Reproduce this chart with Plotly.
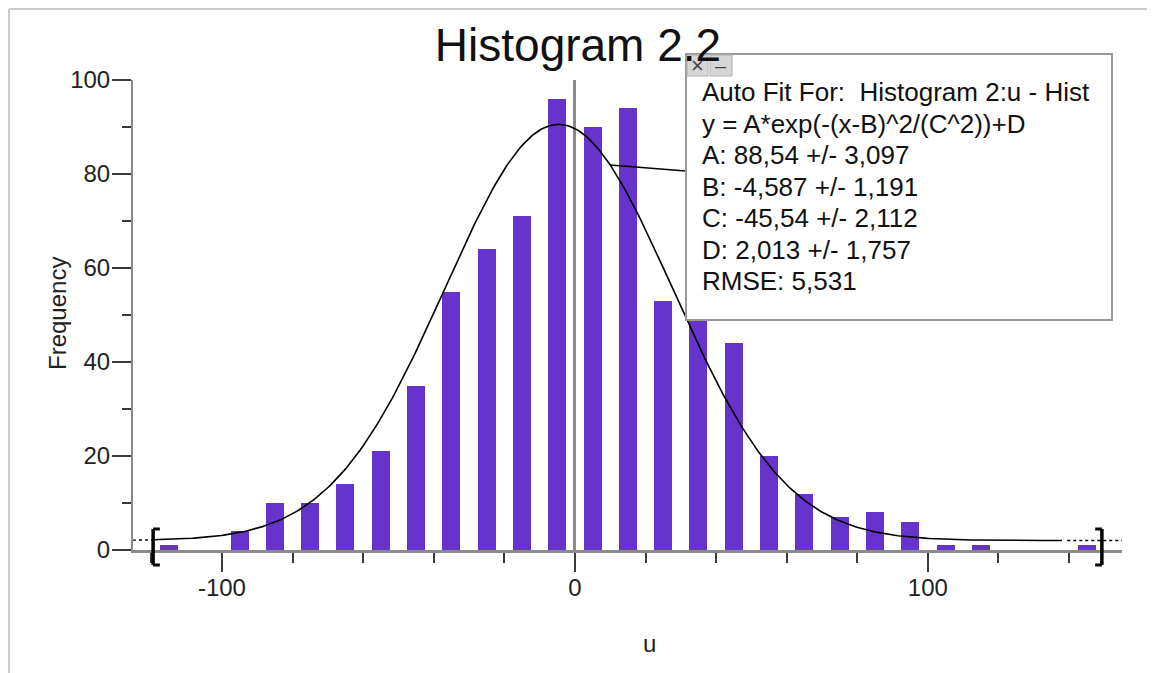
import numpy as np
import plotly.graph_objects as go

# ---------------- data ----------------
bin_centers = [-115, -105, -95, -85, -75, -65, -55, -45, -35, -25, -15, -5, 5,
               15, 25, 35, 45, 55, 65, 75, 85, 95, 105, 115, 125, 135, 145]
counts = [1, 0, 4, 10, 10, 14, 21, 35, 55, 64, 71, 96, 90,
          94, 53, 49, 44, 20, 12, 7, 8, 6, 1, 1, 0, 0, 1]

fit_A, fit_B, fit_C, fit_D = 88.54, -4.587, -45.54, 2.013
fit_range = [-119.5, 149.3]     # bracket positions
fit_solid_end = 138.0
fit_lines = [
    "Auto Fit For:  Histogram 2:u - Hist",
    "y = A*exp(-(x-B)^2/(C^2))+D",
    "A: 88,54 +/- 3,097",
    "B: -4,587 +/- 1,191",
    "C: -45,54 +/- 2,112",
    "D: 2,013 +/- 1,757",
    "RMSE: 5,531",
]
x_tickvals = [-100, 0, 100]
x_ticktext = ["-100", "0", "100"]
x_range = [-125.2, 155.0]
y_range = [0, 100]

# ---------------- layout constants (screen pixels; page body has 8px offset) ----------------
OFF = 8
W, H = 1155 - OFF, 673 - OFF
ML, MR, MT, MB = 133 - OFF, 33, 80 - OFF, 123
PW, PH = W - ML - MR, H - MT - MB


def px_x(p):  # screen pixel -> paper x
    return (p - OFF - ML) / PW


def px_y(p):  # screen pixel -> paper y
    return (H - MB - (p - OFF)) / PH


def fit(x):
    x = np.asarray(x, dtype=float)
    return fit_A * np.exp(-(x - fit_B) ** 2 / fit_C ** 2) + fit_D


FONT = "Liberation Sans, Arial, sans-serif"
AXIS_GRAY = "#8a8a8a"
TICK_GRAY = "#3a3a3a"

fig = go.Figure()

fig.add_trace(go.Bar(
    x=bin_centers, y=counts, width=5.1,
    marker=dict(color="#6633cc", line=dict(width=0)),
    showlegend=False, hoverinfo="x+y",
))

xs_solid = np.linspace(fit_range[0], fit_solid_end, 400)
fig.add_trace(go.Scatter(x=xs_solid, y=fit(xs_solid), mode="lines",
                         line=dict(color="black", width=1.6), showlegend=False))
xs_l = np.linspace(x_range[0], fit_range[0], 10)
fig.add_trace(go.Scatter(x=xs_l, y=fit(xs_l), mode="lines",
                         line=dict(color="black", width=1.4, dash="dot"), showlegend=False))
xs_r = np.linspace(fit_solid_end + 1.5, x_range[1], 20)
fig.add_trace(go.Scatter(x=xs_r, y=fit(xs_r), mode="lines",
                         line=dict(color="black", width=1.4, dash="dot"), showlegend=False))

shapes = []
# brackets
arm = 1.9
for xb, sgn in [(fit_range[0], 1), (fit_range[1], -1)]:
    y_top, y_bot = px_y(529), px_y(565)
    shapes.append(dict(type="line", xref="x", yref="paper", x0=xb, x1=xb, y0=y_bot, y1=y_top,
                       line=dict(color="black", width=3.5)))
    shapes.append(dict(type="line", xref="x", yref="paper", x0=xb, x1=xb + sgn * arm, y0=y_top, y1=y_top,
                       line=dict(color="black", width=3)))
    shapes.append(dict(type="line", xref="x", yref="paper", x0=xb, x1=xb + sgn * arm, y0=y_bot, y1=y_bot,
                       line=dict(color="black", width=3)))

# leader line from curve to fit box
x_lead = 10.0
box_x_data = (686 - 575) / 3.532
shapes.append(dict(type="line", xref="x", yref="y", x0=x_lead, y0=float(fit(x_lead)),
                   x1=box_x_data, y1=float(fit(x_lead)) - 1.3, line=dict(color="black", width=1.5)))

# fit box
shapes.append(dict(type="rect", xref="paper", yref="paper",
                   x0=px_x(686), x1=px_x(1112), y0=px_y(320), y1=px_y(54),
                   fillcolor="white", line=dict(color="#9a9a9a", width=2)))
# buttons
for bx0, bx1 in [(687, 708), (710, 732)]:
    shapes.append(dict(type="rect", xref="paper", yref="paper",
                       x0=px_x(bx0), x1=px_x(bx1), y0=px_y(76), y1=px_y(55),
                       fillcolor="#d6d6d6", line=dict(color="#b0b0b0", width=1)))

# outer frame (top and left), at the figure's edge
shapes.append(dict(type="line", xref="paper", yref="paper", x0=px_x(9), x1=px_x(1160),
                   y0=px_y(9), y1=px_y(9), line=dict(color="#cccccc", width=2)))
shapes.append(dict(type="line", xref="paper", yref="paper", x0=px_x(9), x1=px_x(9),
                   y0=px_y(9), y1=px_y(680), line=dict(color="#cccccc", width=2)))

annotations = []
for i, line in enumerate(fit_lines):
    annotations.append(dict(text=line, xref="paper", yref="paper", x=px_x(700), y=px_y(92 + 31.5 * i),
                            xanchor="left", yanchor="middle", align="left", showarrow=False,
                            font=dict(family=FONT, size=26, color="#111")))
annotations += [
    dict(text="×", xref="paper", yref="paper", x=px_x(697.5), y=px_y(65.5), showarrow=False,
         xanchor="center", yanchor="middle", font=dict(family=FONT, size=22, color="#444")),
    dict(text="–", xref="paper", yref="paper", x=px_x(721), y=px_y(65.5), showarrow=False,
         xanchor="center", yanchor="middle", font=dict(family=FONT, size=20, color="#444")),
    dict(text="Frequency", xref="paper", yref="paper", x=px_x(57), y=px_y(314), textangle=-90,
         showarrow=False, xanchor="center", yanchor="middle",
         font=dict(family=FONT, size=24, color="#222")),
    dict(text="u", xref="paper", yref="paper", x=px_x(649), y=px_y(643), showarrow=False,
         xanchor="center", yanchor="middle", font=dict(family=FONT, size=24, color="#222")),
]

fig.update_layout(
    width=W, height=H, autosize=False,
    margin=dict(l=ML, r=MR, t=MT, b=MB, pad=0),
    paper_bgcolor="white", plot_bgcolor="white",
    title=dict(text="Histogram 2.2", x=(578 - OFF) / W, xanchor="center", xref="container",
               y=1 - (45 - OFF) / H, yanchor="middle", yref="container",
               font=dict(family=FONT, size=46, color="#111")),
    font=dict(family=FONT, color="#222"),
    shapes=shapes, annotations=annotations,
    bargap=0,
    showlegend=False,
)

fig.update_xaxes(
    range=x_range, showline=True, linecolor=AXIS_GRAY, linewidth=3,
    ticks="outside", ticklen=19, tickwidth=2, tickcolor=TICK_GRAY,
    tickmode="array", tickvals=x_tickvals, ticktext=x_ticktext, showgrid=False,
    zeroline=True, zerolinecolor=AXIS_GRAY, zerolinewidth=3,
    tickfont=dict(family=FONT, size=24, color="#222"), ticklabelstandoff=-5,
    minor=dict(tick0=0, dtick=20, ticks="outside", ticklen=10, tickwidth=2,
               tickcolor=TICK_GRAY, showgrid=False),
)
fig.update_yaxes(
    range=y_range, showline=True, linecolor=AXIS_GRAY, linewidth=2,
    ticks="outside", ticklen=19, tickwidth=2, tickcolor=TICK_GRAY,
    tick0=0, dtick=20, showgrid=False, zeroline=False,
    tickfont=dict(family=FONT, size=24, color="#222"), ticklabelstandoff=-3,
    minor=dict(tick0=0, dtick=10, ticks="outside", ticklen=9, tickwidth=2,
               tickcolor=TICK_GRAY, showgrid=False),
)

fig.write_html("out.html", config={"displayModeBar": False})
